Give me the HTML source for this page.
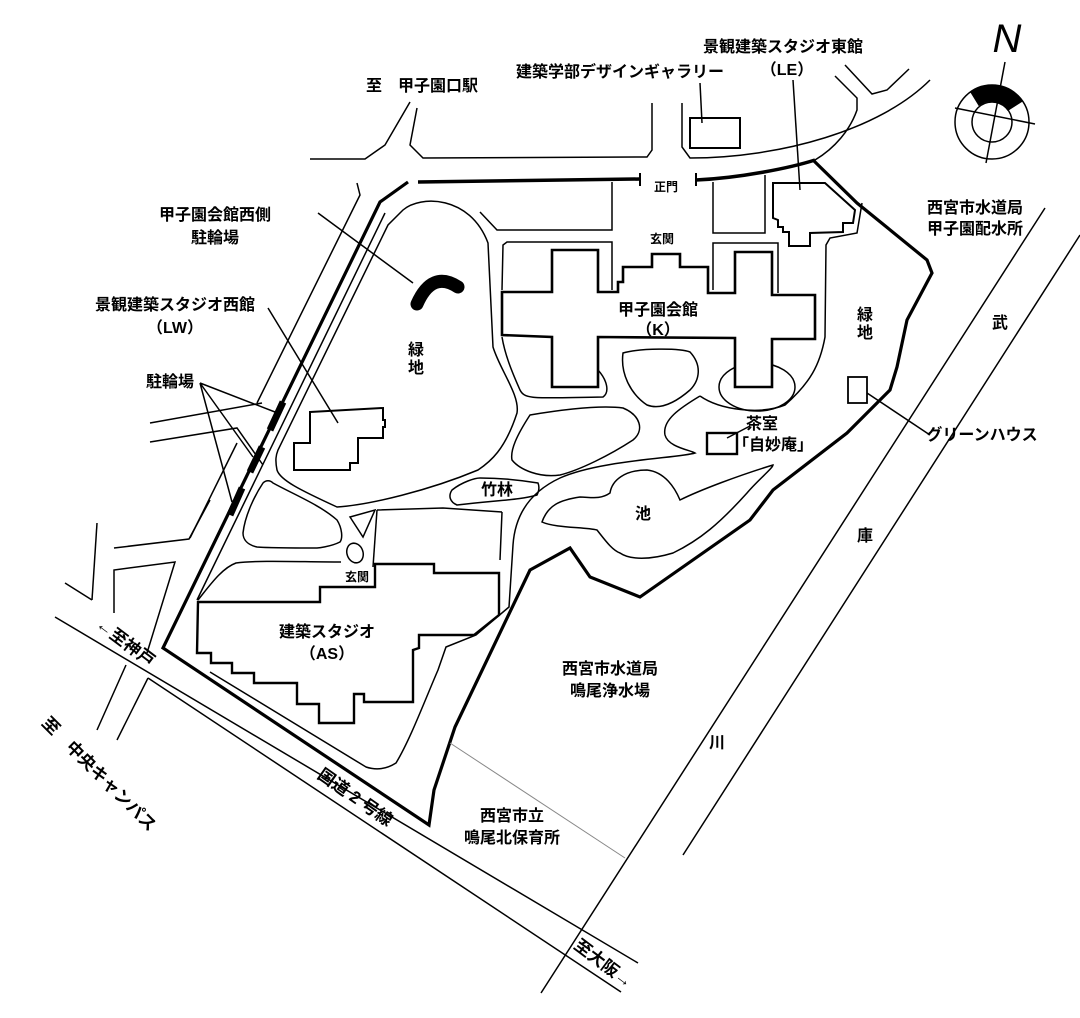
<!DOCTYPE html>
<html><head><meta charset="utf-8"><style>
html,body{margin:0;padding:0;background:#fff}
svg{display:block}
text{font-family:"Liberation Sans","Noto Sans CJK JP",sans-serif;font-size:16px;font-weight:bold;fill:#000;text-anchor:middle}
.s{font-size:12px}
.r{font-size:17px}
</style></head><body>
<svg width="1080" height="1018" viewBox="0 0 1080 1018" xmlns="http://www.w3.org/2000/svg">
<g fill="none" stroke="#000" stroke-width="1.5" stroke-linejoin="miter">
<polyline points="310,159 365,159 385,145 410,102"/>
<polyline points="417,108 410,145 423,158 647,157 652,150 652,103"/>
<path d="M682,103 L682,147 L690,158 C780,158 880,130 930,80"/>
<polyline points="845,65 872,94 887,90 909,69"/>
<path d="M835,76 L857,98 L857,110 C850,130 835,148 815,160"/>
<rect x="690" y="118" width="50" height="30" stroke-width="2"/>
<path d="M418,182 L640,179" stroke-width="3.5"/>
<path d="M640,173 L640,186 M696,173 L696,186" stroke-width="2"/>
<path d="M696,180 C740,178 790,168 815,160" stroke-width="3.5"/>
<path d="M408,182 L380,202 L163,648 L429,825 L434,790 L455,727 L530,570 L570,548 L590,577 L640,597 L750,520 L773,490 L847,433 L890,390 L897,367 L907,320 L932,273 L927,260 L857,203 L813,160" stroke-width="3.2"/>
<line x1="385" y1="213" x2="197" y2="600"/>
<polyline points="357,183 360,195 257,403"/>
<polyline points="150,423 262,403"/>
<polyline points="150,442 237,428 263,465"/>
<polyline points="237,443 190,538"/>
<polyline points="97,523 92,600"/>
<polyline points="114,548 189,539 210,500"/>
<polyline points="114,613 114,570 175,562 147,653"/>
<polyline points="65,583 92,600"/>
<polyline points="126,665 97,730"/>
<polyline points="148,678 117,740"/>
<line x1="55" y1="617" x2="638" y2="963"/>
<line x1="148" y1="678" x2="621" y2="992"/>
<line x1="1045" y1="208" x2="541" y2="993"/>
<line x1="1080" y1="235" x2="683" y2="855"/>
<line x1="450" y1="743" x2="625" y2="858" stroke="#888" stroke-width="1"/>
<path d="M403,210 C420,195 470,195 488,243 L493,347 C500,370 520,395 517,413 C505,450 490,462 478,470 C430,490 370,505 337,507 C300,490 280,480 277,470 C275,460 276,455 278,450 L388,225 Z"/>
<polyline points="480,212 497,230 612,230 612,182"/>
<polyline points="713,182 713,233 765,233 765,175"/>
<polyline points="502,290 503,245 507,242 612,242 612,290"/>
<polyline points="713,290 713,243 778,243 778,293"/>
<path d="M862,203 L857,233 L830,238 L826,245 L825,337 C820,365 810,383 785,405 C760,415 720,410 700,396"/>
<path d="M502,337 C505,355 512,372 520,390 C525,400 535,398 603,397 C610,392 607,380 598,370"/>
<path d="M623,353 C640,348 680,348 690,352 C702,365 700,380 690,390 C675,403 660,410 647,405 C632,395 620,375 623,353 Z"/>
<ellipse cx="757" cy="387" rx="38" ry="24"/>
<path d="M530,415 C560,410 600,405 623,408 C640,415 645,430 633,440 C610,455 580,470 560,475 C540,478 520,470 512,460 C510,450 517,435 530,415 Z"/>
<path d="M700,396 C680,408 662,420 665,435 C668,447 690,450 695,453 C680,458 600,460 560,478 C530,492 515,515 513,545 L509,607 L476,635 L446,647 L438,670 C425,700 410,740 396,763 C385,770 375,770 366,767 L210,672"/>
<path d="M773,465 C740,475 700,490 680,500 C675,488 665,472 647,470 C625,470 612,480 610,493 C600,500 590,497 580,497 C560,500 548,505 542,522 C555,528 585,527 597,530 C605,540 612,550 620,553 C630,560 650,560 673,553 C700,540 720,523 747,493 C758,480 773,468 773,465 Z"/>
<path d="M452,490 C462,482 475,478 480,478 C500,478 520,480 538,483 C540,488 538,493 537,495 C520,500 500,500 457,505 C450,502 448,496 452,490 Z"/>
<path d="M243,533 C245,515 255,495 263,483 C266,480 270,480 273,483 C295,495 320,505 337,520 C342,528 343,538 340,542 C330,547 317,548 317,548 C300,548 270,548 257,547 C248,545 243,540 243,533 Z"/>
<path d="M350,517 L375,510 L363,537 Z"/>
<ellipse cx="355" cy="553" rx="8" ry="10" transform="rotate(-20 355 553)"/>
<path d="M198,600 C210,585 222,568 236,563 C260,560 300,562 341,562"/>
<polyline points="377,510 443,508 502,512"/>
<line x1="377" y1="510" x2="373" y2="567"/>
<line x1="502" y1="512" x2="500" y2="560"/>
<polygon fill="#fff" stroke-width="2.6" points="502,292 552,292 552,250 598,250 598,292 618,292 618,282 623,282 623,267 652,267 652,254 680,254 680,267 708,267 708,293 735,293 735,252 772,252 772,295 815,295 815,339 772,339 772,387 735,387 735,338 598,337 598,387 552,387 552,337 502,335"/>
<polygon fill="#fff" stroke-width="2" points="773,183 825,183 855,210 853,223 843,223 843,232 810,233 810,246 789,246 789,232 783,232 783,227 778,227 778,220 773,218"/>
<polygon fill="#fff" stroke-width="2" points="310,412 383,408 383,420 385,420 385,427 383,427 383,438 358,438 358,463 350,463 350,470 294,470 294,443 310,443"/>
<polygon fill="#fff" stroke-width="2.4" points="198,602 320,602 320,587 375,587 375,564 434,564 434,573 499,573 499,615 474,635 419,635 419,648 413,650 413,702 364,702 364,694 354,694 354,723 319,723 319,704 297,704 297,683 254,683 254,673 232,673 232,663 211,663 211,653 197,653"/>
<rect x="707" y="433" width="30" height="21" stroke-width="2.4"/>
<rect x="848" y="377" width="19" height="26" stroke-width="1.8"/>
<path d="M283,402 L270,430 M262,447 L250,472 M242,488 L230,515" stroke-width="7"/>
<path d="M417,304 Q432,270 458,287" stroke-width="13" stroke-linecap="round"/>
<line x1="318" y1="213" x2="413" y2="283"/>
<line x1="268" y1="308" x2="338" y2="423"/>
<path d="M200,383 L275,412 M200,383 L253,457 M200,383 L232,502"/>
<line x1="700" y1="83" x2="702" y2="123"/>
<line x1="793" y1="80" x2="800" y2="190"/>
<line x1="727" y1="438" x2="750" y2="426"/>
<polyline points="867,393 930,435"/>
<circle cx="992" cy="122" r="37"/>
<circle cx="992" cy="122" r="20"/>
<path d="M971,92 A37,37 0 0 1 1022,101 L1008,110 A20,20 0 0 0 979,105 Z" fill="#000"/>
<line x1="1005" y1="62" x2="986" y2="163"/>
<line x1="955" y1="108" x2="1035" y2="124"/>
</g>
<text x="1007" y="52" style="font-size:40px;font-weight:normal;font-style:italic">N</text>
<text x="422" y="91">至　甲子園口駅</text>
<text x="620" y="77">建築学部デザインギャラリー</text>
<text x="783" y="52">景観建築スタジオ東館</text>
<text x="787" y="75">（LE）</text>
<text x="666" y="191" class="s">正門</text>
<text x="662" y="243" class="s">玄関</text>
<text x="658" y="315">甲子園会館</text>
<text x="658" y="335">（K）</text>
<text x="215" y="220">甲子園会館西側</text>
<text x="215" y="243">駐輪場</text>
<text x="175" y="310">景観建築スタジオ西館</text>
<text x="175" y="333">（LW）</text>
<text x="170" y="387">駐輪場</text>
<text x="416" y="355">緑</text>
<text x="416" y="373">地</text>
<text x="865" y="320">緑</text>
<text x="865" y="338">地</text>
<text x="975" y="213">西宮市水道局</text>
<text x="975" y="234">甲子園配水所</text>
<text x="762" y="429">茶室</text>
<text x="773" y="450">「自妙庵」</text>
<text x="982" y="440">グリーンハウス</text>
<text x="497" y="495">竹林</text>
<text x="643" y="519">池</text>
<text x="357" y="581" class="s">玄関</text>
<text x="327" y="637">建築スタジオ</text>
<text x="327" y="659">（AS）</text>
<text x="610" y="674">西宮市水道局</text>
<text x="610" y="696">鳴尾浄水場</text>
<text x="512" y="821">西宮市立</text>
<text x="512" y="843">鳴尾北保育所</text>
<text x="1000" y="328">武</text>
<text x="865" y="541">庫</text>
<text x="717" y="748">川</text>
<text class="r" transform="translate(352,802) rotate(35)">国道 2 号線</text>
<text class="r" transform="translate(122,647) rotate(37)">←至神戸</text>
<text class="r" transform="translate(95,778) rotate(45)">至　中央キャンパス</text>
<text class="r" transform="translate(600,968) rotate(37)">至大阪→</text>
</svg>
</body></html>
